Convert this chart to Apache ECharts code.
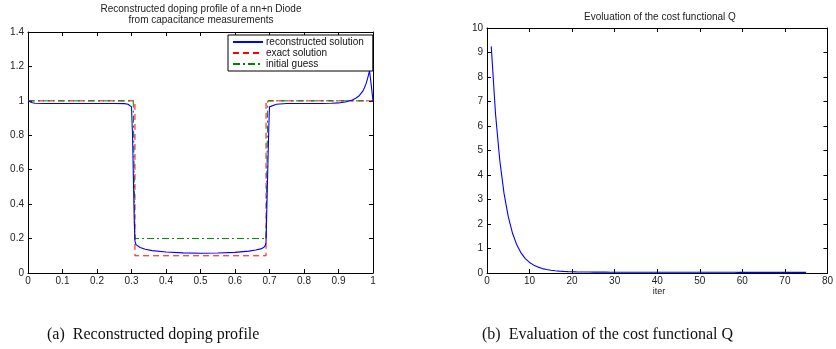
<!DOCTYPE html>
<html>
<head>
<meta charset="utf-8">
<script src="https://cdn.jsdelivr.net/npm/echarts@6/dist/echarts.min.js"></script>
<style>
html,body{margin:0;padding:0;background:#fff;}
#c{width:836px;height:349px;}
</style>
</head>
<body>
<div id="c"></div>
<script>
// ---- Left chart: doping profile ----
const exactX = [0, 0.31, 0.31, 0.69, 0.69, 1];
const exactY = [1, 1, 0.1, 0.1, 1, 1];
const guessX = [0, 0.305, 0.31, 0.69, 0.695, 1];
const guessY = [1, 1, 0.2, 0.2, 1, 1];
const reconX = [0, 0.005, 0.01, 0.02, 0.05, 0.1, 0.2, 0.25, 0.28, 0.29, 0.295, 0.3, 0.303, 0.306, 0.308, 0.31, 0.313, 0.318, 0.325, 0.34, 0.36, 0.4, 0.45, 0.5, 0.55, 0.6, 0.64, 0.66, 0.675, 0.683, 0.688, 0.69, 0.692, 0.695, 0.698, 0.7, 0.705, 0.72, 0.75, 0.8, 0.85, 0.88, 0.9, 0.92, 0.94, 0.95, 0.96, 0.97, 0.975, 0.98, 0.985, 0.99, 0.995, 1.0];
const reconY = [1.0, 0.995, 0.99, 0.986, 0.985, 0.985, 0.985, 0.985, 0.984, 0.98, 0.975, 0.965, 0.8, 0.5, 0.3, 0.185, 0.165, 0.155, 0.148, 0.138, 0.13, 0.122, 0.117, 0.115, 0.116, 0.12, 0.127, 0.134, 0.14, 0.148, 0.16, 0.18, 0.35, 0.6, 0.85, 0.965, 0.975, 0.98, 0.985, 0.985, 0.985, 0.986, 0.988, 0.993, 1.005, 1.015, 1.03, 1.055, 1.075, 1.1, 1.135, 1.175, 1.09, 1.0];
const seriesNames = ['reconstructed solution', 'exact solution', 'initial guess'];
const leftTitle = 'Reconstructed doping profile of a nn+n Diode\nfrom capacitance measurements';

// ---- Right chart: cost functional ----
const iters = [];
for (let i = 1; i <= 75; i++) iters.push(i);
const qValues = [9.25, 6.5, 4.6, 3.25, 2.3, 1.62, 1.15, 0.82, 0.59, 0.43,
  0.32, 0.24, 0.18, 0.14, 0.11, 0.09, 0.075, 0.065, 0.057, 0.05,
  0.046, 0.043, 0.041, 0.039, 0.037, 0.036, 0.035, 0.034, 0.033, 0.032,
  0.032, 0.031, 0.031, 0.031, 0.030, 0.030, 0.030, 0.030, 0.030, 0.029,
  0.029, 0.029, 0.029, 0.029, 0.029, 0.029, 0.028, 0.028, 0.028, 0.028,
  0.028, 0.028, 0.028, 0.028, 0.028, 0.028, 0.028, 0.028, 0.027, 0.027,
  0.027, 0.027, 0.027, 0.027, 0.027, 0.027, 0.027, 0.027, 0.027, 0.027,
  0.027, 0.027, 0.027, 0.027, 0.027];
const rightTitle = 'Evoluation of the cost functional Q';
const rightXName = 'iter';
const captionA = '(a)  Reconstructed doping profile';
const captionB = '(b)  Evaluation of the cost functional Q';

const zip = (xs, ys) => xs.map((x, i) => [x, ys[i]]);
const FONT = 'Liberation Sans, Arial, sans-serif';
const lbl = {fontSize: 10, color: '#222', fontFamily: FONT, margin: 4};

function axes(gridIndex, xmin, xmax, xint, ymin, ymax, yint) {
  const common = {
    type: 'value', gridIndex,
    axisLine: {show: true, onZero: false, lineStyle: {color: '#000', width: 1}},
    axisTick: {show: true, inside: true, length: 4, lineStyle: {color: '#000'}},
    splitLine: {show: false}
  };
  return {
    x: [
      Object.assign({}, common, {position: 'bottom', min: xmin, max: xmax, interval: xint, axisLabel: Object.assign({}, lbl, {margin: 3})}),
      Object.assign({}, common, {position: 'top', min: xmin, max: xmax, interval: xint, axisLabel: {show: false}})
    ],
    y: [
      Object.assign({}, common, {position: 'left', min: ymin, max: ymax, interval: yint, axisLabel: lbl}),
      Object.assign({}, common, {position: 'right', min: ymin, max: ymax, interval: yint, axisLabel: {show: false}})
    ]
  };
}
const a0 = axes(0, 0, 1, 0.1, 0, 1.4, 0.2);
const a1 = axes(1, 0, 80, 10, 0, 10, 1);

const chart = echarts.init(document.getElementById('c'), null, {renderer: 'canvas'});
chart.setOption({
  animation: false,
  backgroundColor: '#fff',
  grid: [
    {left: 28, top: 32, width: 345, height: 241},
    {left: 487, top: 28, width: 345, height: 245}
  ],
  xAxis: [a0.x[0], a0.x[1], a1.x[0], a1.x[1]],
  yAxis: [a0.y[0], a0.y[1], a1.y[0], a1.y[1]],
  legend: {
    show: true,
    data: seriesNames,
    orient: 'vertical',
    left: 228, top: 35,
    padding: [2, 9, 2, 4],
    itemGap: 1,
    itemWidth: 30, itemHeight: 10,
    borderColor: '#000', borderWidth: 1,
    backgroundColor: '#fff',
    itemStyle: {color: 'transparent', borderWidth: 0, opacity: 0},
    textStyle: {fontSize: 10, color: '#111', fontFamily: FONT, padding: [0, 0, 0, -2]}
  },
  series: [
    {name: seriesNames[0], type: 'line', xAxisIndex: 0, yAxisIndex: 0, data: zip(reconX, reconY), showSymbol: false, symbol: 'none', z: 3,
      lineStyle: {color: '#0000ff', width: 1.1}, itemStyle: {color: '#0000ff'}},
    {name: seriesNames[1], type: 'line', xAxisIndex: 0, yAxisIndex: 0, data: zip(exactX, exactY), showSymbol: false, symbol: 'none', z: 2,
      lineStyle: {color: '#ff0000', width: 1, type: [6, 4]}, itemStyle: {color: '#ff0000'}},
    {name: seriesNames[2], type: 'line', xAxisIndex: 0, yAxisIndex: 0, data: zip(guessX, guessY), showSymbol: false, symbol: 'none', z: 2,
      lineStyle: {color: '#008000', width: 1, type: [7, 3, 2, 3]}, itemStyle: {color: '#008000'}},
    {name: 'Q', type: 'line', xAxisIndex: 2, yAxisIndex: 2, data: zip(iters, qValues), showSymbol: false, symbol: 'none',
      lineStyle: {color: '#0000ff', width: 1.1}, itemStyle: {color: '#0000ff'}}
  ],
  graphic: [
    {type: 'text', x: 201, y: 4, style: {text: leftTitle, fontSize: 10, fontFamily: FONT, fill: '#222', textAlign: 'center', lineHeight: 11}},
    {type: 'text', x: 660, y: 12, style: {text: rightTitle, fontSize: 10, fontFamily: FONT, fill: '#222', textAlign: 'center'}},
    {type: 'text', x: 659, y: 287, style: {text: rightXName, fontSize: 9, fontFamily: FONT, fill: '#222', textAlign: 'center'}},
    {type: 'text', x: 47, y: 327, style: {text: captionA, fontSize: 16, fontFamily: 'Liberation Serif, Times New Roman, serif', fill: '#111'}},
    {type: 'text', x: 482, y: 327, style: {text: captionB, fontSize: 16, fontFamily: 'Liberation Serif, Times New Roman, serif', fill: '#111'}}
  ]
});
</script>
</body>
</html>
